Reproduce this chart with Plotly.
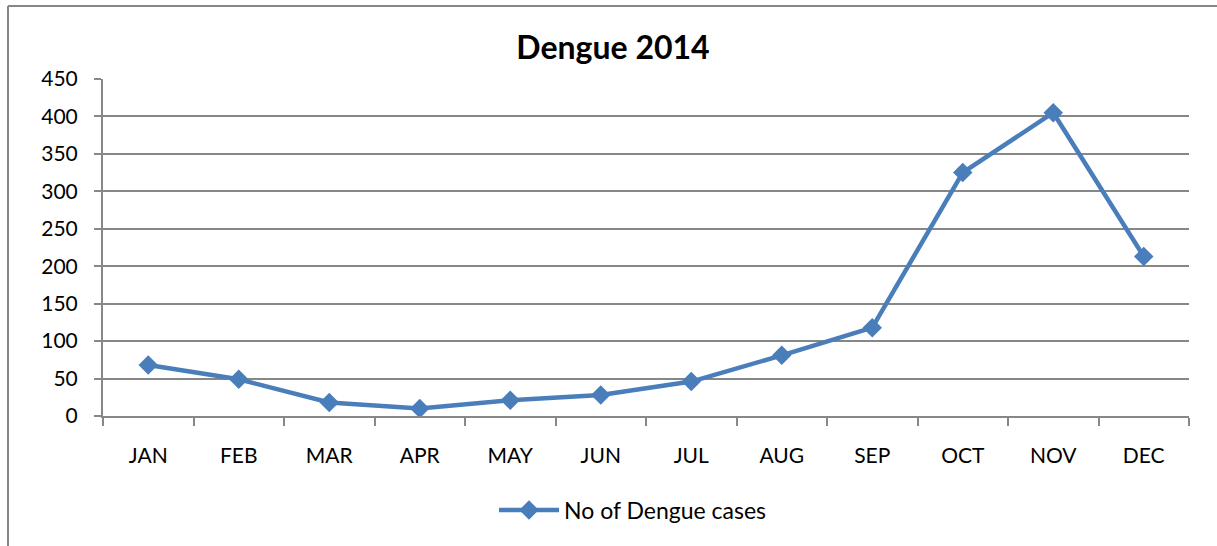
import plotly.graph_objects as go

months = ["JAN", "FEB", "MAR", "APR", "MAY", "JUN", "JUL", "AUG", "SEP", "OCT", "NOV", "DEC"]
cases = [68, 49, 18, 10, 21, 28, 46, 81, 118, 325, 405, 213]
y_ticks = [0, 50, 100, 150, 200, 250, 300, 350, 400, 450]

W, H = 1217, 546
L, R, T, B = 103, 28, 79, 130
pw, ph = W - L - R, H - T - B

def px(x):
    return (x - L) / pw

def py(y):
    return (H - B - y) / ph

FONT = "Lato, 'Open Sans', sans-serif"
BLUE = "#4A7EBB"
GRID = "#878787"

fig = go.Figure()
fig.add_trace(go.Scatter(
    x=months, y=cases, mode="lines+markers", name="No of Dengue cases",
    line=dict(color=BLUE, width=4.5),
    marker=dict(symbol="diamond", size=15, color=BLUE),
))

fig.update_layout(
    width=W, height=H,
    margin=dict(l=L, r=R, t=T, b=B),
    paper_bgcolor="white", plot_bgcolor="white",
    title=dict(text="<b>Dengue 2014</b>", x=px(613), xanchor="center", xref="paper",
               y=1 - 48 / H, yanchor="middle",
               font=dict(family=FONT, size=32, color="black")),
    font=dict(family=FONT, size=21, color="black"),
    showlegend=True,
    legend=dict(orientation="h", x=px(633), xanchor="center", y=py(510), yanchor="middle",
                font=dict(family=FONT, size=23, color="black"), itemwidth=60),
    xaxis=dict(type="category", categoryorder="array", categoryarray=months,
               range=[-0.5, len(months) - 0.5],
               showline=True, linecolor=GRID, linewidth=2,
               ticks="outside", tickson="boundaries", ticklen=8, tickcolor=GRID, tickwidth=2,
               showgrid=False, ticklabelstandoff=20,
               tickfont=dict(family=FONT, size=21, color="black")),
    yaxis=dict(range=[0, 450], tickvals=y_ticks, showline=True, linecolor=GRID, linewidth=2,
               ticks="outside", ticklen=7, tickcolor=GRID, tickwidth=2,
               showgrid=True, gridcolor=GRID, gridwidth=2, zeroline=False,
               ticklabelstandoff=12,
               tickfont=dict(family=FONT, size=21, color="black")),
    shapes=[
        dict(type="line", xref="paper", yref="paper", x0=px(8), x1=px(8), y0=py(6), y1=py(H),
             line=dict(color=GRID, width=2)),
        dict(type="line", xref="paper", yref="paper", x0=px(8), x1=px(W), y0=py(6), y1=py(6),
             line=dict(color=GRID, width=2)),
    ],
)

fig.write_html("out.html", config={"displayModeBar": False},
               post_script="document.body.style.margin='0';document.body.style.overflow='hidden';")
